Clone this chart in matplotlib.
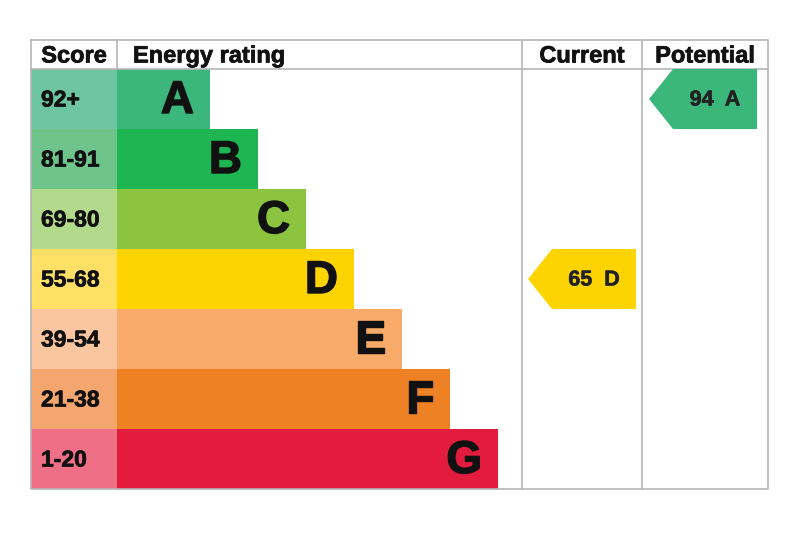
import matplotlib
matplotlib.use("Agg")
import matplotlib.pyplot as plt
from matplotlib.patches import Rectangle, Polygon
import matplotlib.patheffects as pe

# ---- data ----
bands = ["A", "B", "C", "D", "E", "F", "G"]
score_labels = ["92+", "81-91", "69-80", "55-68", "39-54", "21-38", "1-20"]
band_min = [92, 81, 69, 55, 39, 21, 1]
bar_colors = ["#3cb77c", "#1db652", "#8cc440", "#fed400", "#f8ab68", "#ef8125", "#e31c3d"]
score_colors = ["#6dc5a2", "#6ec48a", "#b3da8c", "#ffe067", "#fbc69f", "#f4a66e", "#ef7086"]
headers = ["Score", "Energy rating", "Current", "Potential"]
current_score = 65
potential_score = 94

def band_of(score):
    for i, m in enumerate(band_min):
        if score >= m:
            return i
    return len(bands) - 1

# ---- layout (pixel coordinates) ----
W, H = 800, 533
left, right = 31, 768
top, head_bot = 40, 69
row_h = 60
x_score_end = 117
x_cur = 522
x_pot = 642
bar_base = 210 - x_score_end
bar_step = 48
grid_col = "#b5b5b5"

fig = plt.figure(figsize=(W / 100, H / 100), dpi=100)
ax = fig.add_axes([0, 0, 1, 1])
ax.set_xlim(0, W)
ax.set_ylim(H, 0)
ax.axis("off")

font = "Liberation Sans"
txt_col = "#111111"

def heavy(w, col=txt_col):
    return [pe.withStroke(linewidth=w, foreground=col)]

bottom = head_bot + row_h * len(bands)

# rows
for i, (b, lab) in enumerate(zip(bands, score_labels)):
    y0 = head_bot + i * row_h
    ax.add_patch(Rectangle((left, y0), x_score_end - left, row_h,
                           facecolor=score_colors[i], edgecolor="none", zorder=1))
    bar_w = bar_base + bar_step * i
    ax.add_patch(Rectangle((x_score_end, y0), bar_w, row_h,
                           facecolor=bar_colors[i], edgecolor="none", zorder=1))
    ax.text(41, y0 + row_h / 2 + 1, lab, ha="left", va="center", fontsize=16.5,
            fontweight="bold", family=font, color=txt_col, zorder=3,
            path_effects=heavy(0.5))
    ax.text(x_score_end + bar_w - 16, y0 + row_h / 2 + 2, b, ha="right", va="center",
            fontsize=33, fontweight="bold", family=font, color=txt_col, zorder=3,
            path_effects=heavy(1.0))

# grid lines
lw = 1.2
ax.plot([left, right, right, left, left], [top, top, bottom, bottom, top],
        color=grid_col, lw=lw, zorder=2)
ax.plot([left, right], [head_bot, head_bot], color=grid_col, lw=lw, zorder=2)
ax.plot([x_score_end, x_score_end], [top, head_bot], color=grid_col, lw=lw, zorder=2)
for x in (x_cur, x_pot):
    ax.plot([x, x], [top, bottom], color=grid_col, lw=lw, zorder=2)

# headers
hy = (top + head_bot) / 2 + 1.5
hx = [(left + x_score_end) / 2, 133, (x_cur + x_pot) / 2, (x_pot + right) / 2]
ha = ["center", "left", "center", "center"]
for t, x, a in zip(headers, hx, ha):
    ax.text(x, hy, t, ha=a, va="center", fontsize=17, fontweight="bold",
            family=font, color=txt_col, path_effects=heavy(0.5))

# arrows
def arrow(x0, x1, score):
    i = band_of(score)
    y0 = head_bot + i * row_h
    y1 = y0 + row_h
    tip = 24
    pts = [(x0, (y0 + y1) / 2), (x0 + tip, y0), (x1, y0), (x1, y1), (x0 + tip, y1)]
    ax.add_patch(Polygon(pts, closed=True, facecolor=bar_colors[i],
                         edgecolor="none", zorder=3))
    ax.text((x0 + tip + x1) / 2, (y0 + y1) / 2 + 1, f"{score}  {bands[i]}",
            ha="center", va="center", fontsize=15.5, fontweight="bold",
            family=font, color="#222222", zorder=4,
            path_effects=heavy(0.4, "#222222"))

arrow(x_cur + 6, x_pot - 6, current_score)
arrow(x_pot + 7, right - 11, potential_score)

fig.savefig("out.png", dpi=100)
